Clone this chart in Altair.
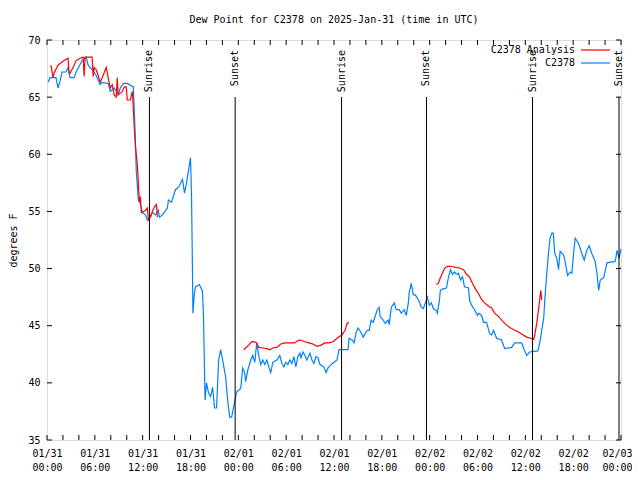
import altair as alt
import pandas as pd

FONT = "DejaVu Sans Mono"

# ---- Observed dew point (C2378), hours since 2025-01-31 00:00 UTC ----
blue_hours = [0.13, 0.38, 1.13, 1.38, 1.64, 1.89, 2.39, 2.64, 2.9, 3.4, 3.65, 4.41, 4.91, 5.16, 5.66,
              6.17, 6.67, 6.92, 7.68, 7.93, 8.43, 8.94, 9.19, 9.57, 10.07, 10.83, 10.95, 11.08, 11.2,
              11.46, 11.71, 11.96, 12.34, 12.59, 12.84, 13.22, 13.6, 13.97, 14.1, 14.48, 15.1, 15.23,
              15.61, 16.11, 16.49, 16.99, 17.25, 17.5, 17.75, 18.0, 18.13, 18.25, 18.3, 18.5, 18.63,
              19.13, 19.51, 19.64, 19.76, 19.83, 20.01, 20.27, 20.52, 20.77, 21.02, 21.27, 21.53,
              21.78, 22.03, 22.41, 22.66, 22.91, 23.16, 23.41, 23.67, 23.79, 24.3, 24.55, 24.8, 24.92,
              25.18, 25.55, 25.81, 26.06, 26.31, 26.56, 26.81, 27.06, 27.32, 27.57, 27.82, 28.07,
              28.32, 28.83, 29.2, 29.46, 29.71, 29.96, 30.21, 30.46, 30.72, 30.97, 31.22, 31.47,
              31.72, 31.85, 32.1, 32.35, 32.6, 32.98, 33.23, 33.48, 33.74, 33.99, 34.24, 34.74, 35.0,
              35.25, 35.62, 36.0, 36.38, 36.63, 37.13, 37.76, 37.89, 38.27, 38.52, 38.77, 39.02, 39.4,
              39.65, 40.16, 40.41, 40.66, 40.91, 41.16, 41.42, 41.67, 41.79, 42.17, 42.42, 42.8,
              42.93, 43.05, 43.18, 43.55, 43.81, 44.18, 44.44, 44.81, 45.07, 45.32, 45.44, 45.69,
              45.95, 46.2, 46.45, 46.7, 46.95, 47.21, 47.46, 47.71, 47.96, 48.21, 48.46, 48.84,
              48.97, 49.22, 49.34, 49.6, 50.1, 50.35, 50.6, 50.86, 51.11, 51.36, 51.61, 51.86, 52.11,
              52.37, 52.87, 53.0, 53.25, 53.63, 54.0, 54.13, 54.51, 54.76, 55.14, 55.52, 55.77,
              56.02, 56.39, 57.02, 57.4, 58.28, 58.66, 59.54, 59.79, 60.17, 60.55, 61.56, 61.81,
              62.06, 62.31, 62.44, 62.69, 62.9, 63.1, 63.32, 63.5, 63.7, 63.95, 64.16, 64.36, 64.79,
              64.99, 65.3, 65.62, 65.84, 66.05, 66.25, 66.68, 67.1, 67.39, 67.72, 68.01, 68.35,
              68.77, 68.98, 69.2, 69.4, 69.83, 70.24, 71.09, 71.25, 71.37, 71.5, 71.75, 72.0]
blue_values = [66.3, 66.7, 66.7, 65.8, 66.4, 67.2, 67.2, 67.6, 66.7, 66.7, 67.2, 68.2, 68.5, 67.8, 67.4,
               66.9, 66.1, 66.3, 66.2, 65.5, 65.8, 65.2, 65.8, 66.2, 66.2, 65.9, 63.7, 61.4, 58.5,
               56.0, 55.7, 54.9, 54.7, 54.25, 54.4, 54.9, 54.7, 55.1, 54.5, 54.7, 55.3, 56.0,
               55.8, 56.9, 57.1, 57.8, 56.6, 57.5, 58.6, 59.7, 56.3, 49.6, 46.1, 47.9, 48.4,
               48.6, 48.0, 45.5, 40.9, 38.5, 40.0, 39.1, 38.8, 39.6, 37.8, 37.8, 42.0,
               42.9, 42.0, 40.5, 38.5, 37.0, 37.0, 37.9, 38.8, 39.2, 39.5, 41.3, 40.9, 40.1,
               41.1, 42.0, 42.4, 41.8, 43.5, 42.4, 41.6, 42.0, 41.6, 42.0, 41.4, 40.9,
               41.8, 42.0, 42.4, 41.7, 41.4, 41.8, 41.6, 42.0, 41.7, 42.3, 41.4, 42.3,
               42.6, 42.2, 42.7, 42.4, 42.0, 42.6, 42.0, 41.7, 42.3, 42.2, 41.6, 41.4, 40.9,
               41.3, 41.6, 41.8, 42.0, 42.9, 42.9, 42.9, 43.9, 43.75, 43.5, 44.4, 44.8, 44.4,
               44.0, 44.6, 44.6, 45.5, 45.3, 45.8, 46.4, 46.6, 45.8, 45.5, 45.2, 45.5,
               45.1, 45.8, 46.6, 47.0, 46.4, 46.4, 46.1, 46.4, 45.9, 47.0, 47.9, 48.7,
               47.7, 47.7, 47.4, 47.1, 46.6, 46.5, 47.0, 47.5, 46.8, 47.0, 46.5, 46.3,
               46.1, 47.2, 48.1, 48.2, 48.3, 49.2, 49.9, 49.5, 49.7, 49.5, 49.6, 49.0, 49.3,
               48.4, 48.3, 47.25, 46.8, 46.4, 45.9, 46.1, 45.9, 45.3, 45.3, 44.3, 44.2,
               44.6, 43.9, 43.75, 43.0, 43.1, 43.5, 43.5, 43.0, 42.4, 42.7, 42.8, 43.5,
               44.6, 45.7, 47.25, 49.6, 51.3, 52.65, 53.1, 53.1, 51.3, 50.9, 49.9, 51.5, 51.2,
               50.6, 49.4, 49.7, 49.6, 51.3, 52.65, 52.2, 51.3, 50.75, 51.6, 52.0, 51.3,
               50.6, 49.6, 48.1, 49.0, 49.2, 50.5, 50.6, 50.6, 51.0, 51.6, 50.9, 51.7]

# ---- Analysis dew point (C2378 Analysis), three separate segments ----
red_hours = [0.5, 0.76, 0.88, 1.38, 2.14, 2.64, 2.77, 2.9, 3.4, 3.65, 4.15, 4.53, 4.66, 4.78, 5.66,
             5.79, 5.92, 6.17, 6.42, 6.67, 6.92, 7.43, 7.68, 7.93, 8.18, 8.43, 8.69, 8.81, 8.94,
             9.44, 9.69, 9.94, 10.07, 10.45, 10.7, 10.83, 10.95, 11.08, 11.33, 11.46, 11.58, 11.71,
             11.83, 12.08, 12.34, 12.59, 12.71, 12.97, 13.22, 13.47, 13.72, 13.85,
             24.67, 24.92, 25.3, 25.68, 25.93, 26.31, 26.56, 27.06, 27.57, 27.95, 28.32, 28.83,
             29.33, 29.83, 31.09, 31.47, 31.85, 32.35, 32.85, 33.36, 33.86, 34.37, 34.87, 35.37,
             35.88, 36.38, 37.01, 37.39, 37.64, 37.89,
             48.84, 49.09, 49.34, 49.6, 49.85, 50.22, 50.73, 51.23, 51.74, 52.24, 52.62, 53.0,
             53.38, 53.75, 54.13, 54.51, 54.89, 55.39, 55.77, 56.15, 56.65, 57.15, 57.65, 58.16,
             58.66, 59.16, 59.67, 60.17, 60.67, 61.05, 61.18, 61.43, 61.68, 61.93, 62.06]
red_values = [67.8, 66.7, 67.1, 67.8, 68.2, 68.4, 67.1, 67.1, 67.8, 68.2, 68.4, 68.5, 66.8, 68.5, 68.5,
              66.8, 67.6, 67.4, 66.9, 66.3, 66.7, 67.6, 66.7, 65.8, 66.1, 65.2, 65.0, 66.7, 65.2,
              65.5, 65.9, 65.9, 64.75, 64.75, 65.5, 64.0, 62.3, 60.8, 59.1, 57.6, 55.8, 56.3,
              54.9, 55.0, 55.1, 55.3, 54.25, 54.5, 55.0, 55.4, 55.6, 54.5,
              42.9, 43.05, 43.3, 43.6, 43.6, 43.5, 43.1, 43.05, 43.0, 42.9, 43.05, 43.1,
              43.4, 43.5, 43.5, 43.7, 43.75, 43.6, 43.5, 43.4, 43.2, 43.3, 43.5, 43.5,
              43.6, 43.9, 44.2, 44.6, 45.2, 45.3,
              48.6, 48.7, 49.2, 49.6, 50.0, 50.2, 50.2, 50.1, 50.05, 49.9, 49.5, 49.25,
              48.7, 48.2, 47.8, 47.3, 47.0, 46.7, 46.55, 46.1, 45.8, 45.4, 45.05, 44.8,
              44.6, 44.45, 44.2, 44.0, 43.9, 43.8, 44.2, 45.2, 46.55, 48.1, 47.25]
red_segment = [1] * 52 + [2] * 30 + [3] * 35

# ---- Sunrise / sunset markers ----
sun_hours = [12.85, 23.6, 36.95, 47.6, 60.9, 71.75]
sun_labels = ["Sunrise", "Sunset", "Sunrise", "Sunset", "Sunrise", "Sunset"]

# ---- Axes ----
y_ticks = [35, 40, 45, 50, 55, 60, 65, 70]
x_major = [0, 6, 12, 18, 24, 30, 36, 42, 48, 54, 60, 66, 72]
x_minor = list(range(0, 73, 2))
day_labels = ["01/31", "02/01", "02/02", "02/03"]

legend_names = ["C2378 Analysis", "C2378"]
legend_colors = ["#ff0000", "#0080ff"]

W, H = 574, 400

blue_df = pd.DataFrame({"h": blue_hours, "v": blue_values})
red_df = pd.DataFrame({"h": red_hours, "v": red_values, "seg": red_segment})
sun_df = pd.DataFrame({"h": sun_hours, "label": sun_labels})
xt_df = pd.DataFrame({"h": x_minor})
yt_df = pd.DataFrame({"v": y_ticks})

day_arr = "[" + ",".join("'%s'" % d for d in day_labels) + "]"
label_expr = ("[" + day_arr + "[floor(datum.value/24)], "
              "(datum.value % 24 < 10 ? '0' : '') + (datum.value % 24) + ':00']")

xscale = alt.Scale(domain=[0, 72], nice=False, zero=False)
yscale = alt.Scale(domain=[35, 70], nice=False, zero=False)
xaxis = alt.Axis(values=x_major, ticks=False, domain=False, grid=False, title=None,
                 labelExpr=label_expr, labelFont=FONT, labelFontSize=10, labelColor="black",
                 labelPadding=8, labelLineHeight=14, labelFlush=False, labelOverlap=False,
                 labelOffset={"condition": {"test": "datum.value == 72", "value": -4}, "value": 0})
yaxis = alt.Axis(values=y_ticks, ticks=False, domain=False, grid=False, title="degrees F",
                 labelFont=FONT, labelFontSize=10, labelColor="black", labelPadding=7,
                 titleFont=FONT, titleFontSize=10, titleFontWeight="normal", titleColor="black",
                 titlePadding=9)

X = alt.X("h:Q", scale=xscale, axis=xaxis)
Y = alt.Y("v:Q", scale=yscale, axis=yaxis)

blue = alt.Chart(blue_df).mark_line(color=legend_colors[1], strokeWidth=1.2).encode(x=X, y=Y)
red = alt.Chart(red_df).mark_line(color=legend_colors[0], strokeWidth=1.2).encode(
    x=X, y=Y, detail="seg:N")

sun_rules = alt.Chart(sun_df).mark_rule(color="black", strokeWidth=1).encode(
    x=X, y=alt.value(57), y2=alt.value(H))
sun_text = alt.Chart(sun_df).mark_text(angle=270, align="right", baseline="middle",
                                       font=FONT, fontSize=10, color="black").encode(
    x=X, y=alt.value(10), text="label:N")

tick_len = 5
xt_bottom = alt.Chart(xt_df).mark_rule(color="black").encode(
    x=X, y=alt.value(H), y2=alt.value(H - tick_len))
xt_top = alt.Chart(xt_df).mark_rule(color="black").encode(
    x=X, y=alt.value(0), y2=alt.value(tick_len))
yt_left = alt.Chart(yt_df).mark_rule(color="black").encode(
    y=Y, x=alt.value(0), x2=alt.value(tick_len))
yt_right = alt.Chart(yt_df).mark_rule(color="black").encode(
    y=Y, x=alt.value(W), x2=alt.value(W - tick_len))

legend_layers = []
for i, (name, col) in enumerate(zip(legend_names, legend_colors)):
    ly = 10 + 13 * i
    ldf = pd.DataFrame({"name": [name]})
    legend_layers.append(
        alt.Chart(ldf).mark_text(align="right", baseline="middle", font=FONT, fontSize=10,
                                 color="black").encode(x=alt.value(528), y=alt.value(ly),
                                                       text="name:N"))
    legend_layers.append(
        alt.Chart(ldf).mark_rule(color=col, strokeWidth=1.2).encode(
            x=alt.value(534), x2=alt.value(563), y=alt.value(ly)))

chart = alt.layer(
    blue, red, sun_rules, sun_text, xt_bottom, xt_top, yt_left, yt_right, *legend_layers
).properties(
    width=W, height=H,
    title=alt.TitleParams("Dew Point for C2378 on 2025-Jan-31 (time in UTC)", font=FONT,
                          fontSize=10, fontWeight="normal", color="black", anchor="middle",
                          offset=10),
    autosize=alt.AutoSizeParams(type="none"),
    padding={"left": 39, "top": 32, "right": 11, "bottom": 32},
).configure_view(stroke="black", strokeWidth=1).configure(background="white")

chart.save("out.html", embed_options={"renderer": "svg", "actions": False})
